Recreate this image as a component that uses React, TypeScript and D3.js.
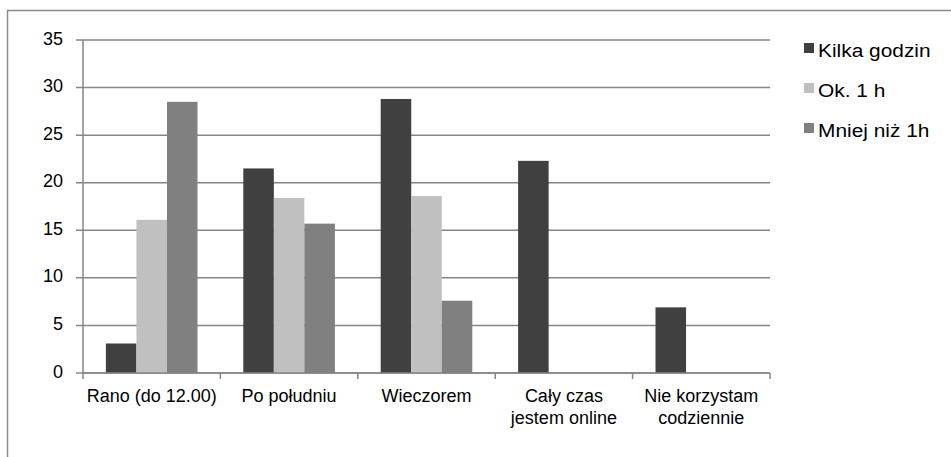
import React from "react";
import * as d3 from "d3";

const categories: string[][] = [
  ["Rano (do 12.00)"],
  ["Po południu"],
  ["Wieczorem"],
  ["Cały czas", "jestem online"],
  ["Nie korzystam", "codziennie"],
];
const seriesNames = ["Kilka godzin", "Ok. 1 h", "Mniej niż 1h"];
const kilkaGodzin = [3.1, 21.5, 28.8, 22.3, 6.9];
const ok1h = [16.1, 18.4, 18.6, 0, 0];
const mniejNiz1h = [28.5, 15.7, 7.6, 0, 0];
const yTicks = [0, 5, 10, 15, 20, 25, 30, 35];

const seriesValues = [kilkaGodzin, ok1h, mniejNiz1h];
const colors = ["#404040", "#c0c0c0", "#808080"];

const W = 951;
const H = 457;
const plot = { left: 83, right: 770, top: 40, bottom: 373 };
const font = "'Liberation Sans', Arial, sans-serif";
const gridColor = "#868686";

export default function App() {
  const catIdx = categories.map((_, i) => String(i));
  const x = d3.scaleBand<string>().domain(catIdx).range([plot.left, plot.right]).padding(0);
  const xs = d3
    .scaleBand<string>()
    .domain(seriesNames)
    .range([0, x.bandwidth()])
    .paddingInner(0)
    .paddingOuter(0.75);
  const y = d3.scaleLinear().domain([0, 35]).range([plot.bottom, plot.top]);

  const boundaries = d3.range(categories.length + 1).map((i) => plot.left + i * x.step());

  return (
    <div style={{ position: "fixed", left: 0, top: 0, width: W, height: H, background: "#fff" }}>
      <svg width={W} height={H} style={{ display: "block" }} fontFamily={font}>
        <rect x={7.5} y={10.5} width={980} height={480} fill="#fff" stroke="#8c8c8c" strokeWidth={1.5} />

        {/* horizontal gridlines with y tick marks */}
        {yTicks.map((t) => (
          <g key={t}>
            <line x1={plot.left - 7} x2={plot.right} y1={y(t)} y2={y(t)} stroke={gridColor} strokeWidth={1.5} />
            <text x={63} y={y(t) + 4.5} textAnchor="end" fontSize={18} fill="#000">
              {t}
            </text>
          </g>
        ))}

        {/* bars */}
        {seriesValues.map((vals, s) =>
          vals.map((v, i) =>
            v > 0 ? (
              <rect
                key={`${s}-${i}`}
                x={(x(String(i)) as number) + (xs(seriesNames[s]) as number)}
                y={y(v)}
                width={xs.bandwidth()}
                height={y(0) - y(v)}
                fill={colors[s]}
              />
            ) : null
          )
        )}

        {/* axes */}
        <line x1={plot.left} x2={plot.left} y1={plot.top} y2={plot.bottom} stroke={gridColor} strokeWidth={1.5} />
        <line x1={plot.left} x2={plot.right} y1={plot.bottom} y2={plot.bottom} stroke={gridColor} strokeWidth={1.5} />
        {boundaries.map((bx, i) => (
          <line key={i} x1={bx} x2={bx} y1={plot.bottom} y2={plot.bottom + 6} stroke={gridColor} strokeWidth={1.5} />
        ))}

        {/* category labels */}
        {categories.map((lines, i) => (
          <text
            key={i}
            x={(x(String(i)) as number) + x.bandwidth() / 2}
            y={402}
            textAnchor="middle"
            fontSize={18}
            fill="#000"
          >
            {lines.map((ln, k) => (
              <tspan key={k} x={(x(String(i)) as number) + x.bandwidth() / 2} dy={k === 0 ? 0 : 21.5}>
                {ln}
              </tspan>
            ))}
          </text>
        ))}

        {/* legend */}
        {seriesNames.map((name, s) => (
          <g key={name} transform={`translate(804, ${43 + s * 40})`}>
            <rect x={0} y={0} width={10} height={10} fill={colors[s]} />
            <text x={14} y={13.5} fontSize={18.5} fill="#000" transform="translate(14,0) scale(1.13,1) translate(-14,0)">
              {name}
            </text>
          </g>
        ))}
      </svg>
    </div>
  );
}
